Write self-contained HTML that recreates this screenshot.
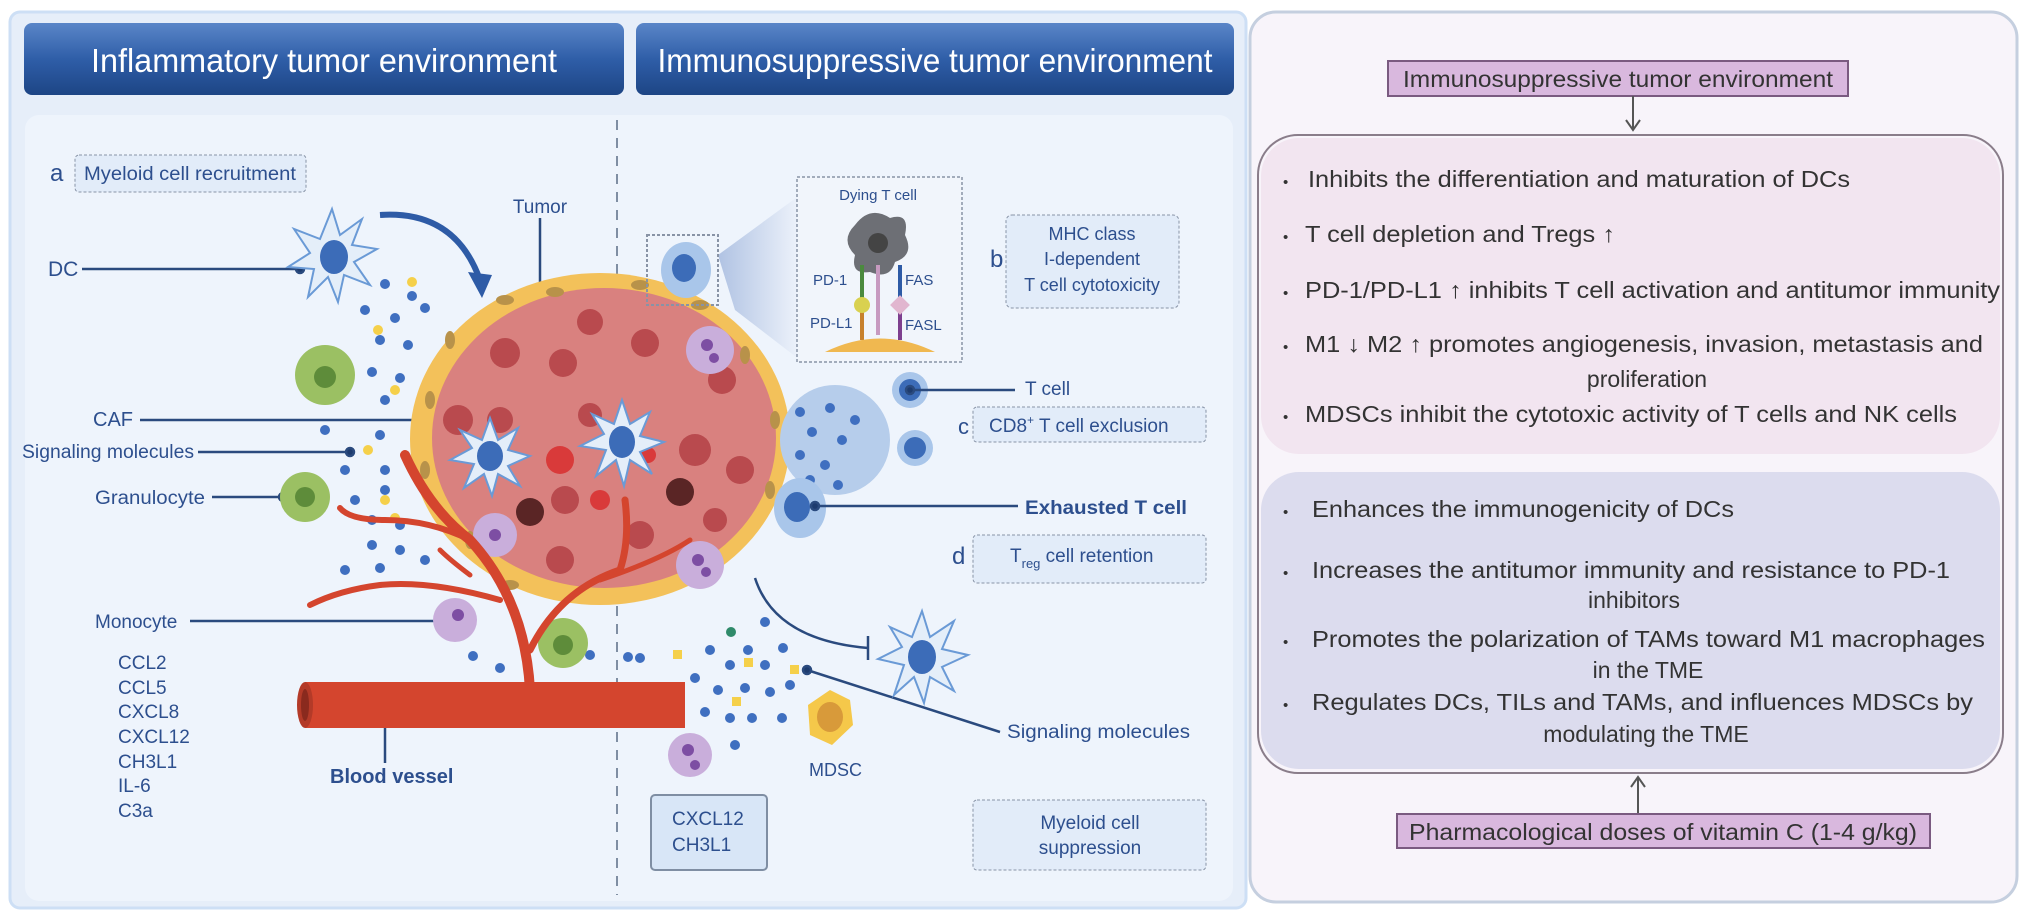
<!DOCTYPE html>
<html><head><meta charset="utf-8"><style>
html,body{margin:0;padding:0;background:#fff;}
svg{display:block;font-family:"Liberation Sans",Arial,sans-serif;}
</style></head><body>
<svg width="2032" height="920" viewBox="0 0 2032 920" xmlns="http://www.w3.org/2000/svg">
<defs>
<linearGradient id="hdr" x1="0" y1="0" x2="0" y2="1"><stop offset="0" stop-color="#5a86c8"/><stop offset="0.5" stop-color="#2f5ea8"/><stop offset="1" stop-color="#1d4585"/></linearGradient>
<linearGradient id="cone" x1="0" y1="0" x2="1" y2="0"><stop offset="0" stop-color="#a9bde0"/><stop offset="1" stop-color="#eef3fb"/></linearGradient>
</defs>
<rect width="2032" height="920" fill="#ffffff"/>
<rect x="10" y="12" width="1236" height="896" rx="10" fill="#e6eef9" stroke="#cddff5" stroke-width="3"/>
<rect x="25" y="115" width="1208" height="786" rx="14" fill="#eef4fc"/>
<rect x="24" y="23" width="600" height="72" rx="8" fill="url(#hdr)"/>
<rect x="636" y="23" width="598" height="72" rx="8" fill="url(#hdr)"/>
<text x="324" y="72" font-size="33" fill="#fff" text-anchor="middle" textLength="466" lengthAdjust="spacingAndGlyphs">Inflammatory tumor environment</text>
<text x="935" y="72" font-size="33" fill="#fff" text-anchor="middle" textLength="555" lengthAdjust="spacingAndGlyphs">Immunosuppressive tumor environment</text>
<line x1="617" y1="120" x2="617" y2="895" stroke="#7f8ea3" stroke-width="2" stroke-dasharray="10,8"/>

<g font-size="19" fill="#2d4f8e">
<text x="50" y="181" font-size="24">a</text>
<rect x="75" y="155" width="231" height="37" rx="4" fill="#e2ecf9" stroke="#8893a6" stroke-dasharray="3,2"/>
<text x="190" y="180" text-anchor="middle" textLength="212" lengthAdjust="spacingAndGlyphs">Myeloid cell recruitment</text>
<text x="48" y="276" font-size="21">DC</text>
<text x="540" y="213" text-anchor="middle" font-size="19">Tumor</text>
<text x="93" y="426" font-size="20">CAF</text>
<text x="22" y="458" textLength="172" lengthAdjust="spacingAndGlyphs">Signaling molecules</text>
<text x="95" y="504" textLength="110" lengthAdjust="spacingAndGlyphs">Granulocyte</text>
<text x="95" y="628">Monocyte</text>
<g font-size="19"><text x="118" y="669">CCL2</text><text x="118" y="694">CCL5</text><text x="118" y="718">CXCL8</text><text x="118" y="743">CXCL12</text><text x="118" y="768">CH3L1</text><text x="118" y="792">IL-6</text><text x="118" y="817">C3a</text></g>
<text x="330" y="783" font-weight="bold" font-size="20">Blood vessel</text>
</g>
<g stroke="#2a4a7e" stroke-width="2.5" fill="#1d3b6e">
<line x1="82" y1="269" x2="300" y2="269"/><circle cx="300" cy="269" r="4"/>
<line x1="540" y1="218" x2="540" y2="330"/><circle cx="540" cy="330" r="4"/>
<line x1="140" y1="420" x2="420" y2="420"/><circle cx="420" cy="420" r="4"/>
<line x1="198" y1="452" x2="355" y2="452"/><circle cx="350" cy="452" r="4"/>
<line x1="212" y1="497" x2="283" y2="497"/><circle cx="283" cy="497" r="4"/>
<line x1="190" y1="621" x2="455" y2="621"/><circle cx="455" cy="621" r="4"/>
<line x1="385" y1="728" x2="385" y2="763"/>
</g>

<g fill="#3f6fc0">
<circle cx="385" cy="284" r="5"/><circle cx="412" cy="296" r="5"/><circle cx="365" cy="310" r="5"/><circle cx="395" cy="318" r="5"/><circle cx="425" cy="308" r="5"/><circle cx="380" cy="340" r="5"/><circle cx="408" cy="345" r="5"/><circle cx="372" cy="372" r="5"/><circle cx="400" cy="378" r="5"/><circle cx="385" cy="400" r="5"/><circle cx="325" cy="430" r="5"/><circle cx="380" cy="435" r="5"/><circle cx="345" cy="470" r="5"/><circle cx="385" cy="470" r="5"/><circle cx="355" cy="500" r="5"/><circle cx="385" cy="490" r="5"/><circle cx="372" cy="520" r="5"/><circle cx="400" cy="525" r="5"/><circle cx="372" cy="545" r="5"/><circle cx="400" cy="550" r="5"/><circle cx="425" cy="560" r="5"/><circle cx="345" cy="570" r="5"/><circle cx="380" cy="568" r="5"/><circle cx="473" cy="656" r="5"/><circle cx="500" cy="668" r="5"/><circle cx="590" cy="655" r="5"/><circle cx="640" cy="658" r="5"/>
</g>
<g fill="#f5d04a"><circle cx="412" cy="282" r="5"/><circle cx="378" cy="330" r="5"/><circle cx="395" cy="390" r="5"/><circle cx="368" cy="450" r="5"/><circle cx="395" cy="518" r="5"/><circle cx="385" cy="500" r="5"/></g>

<g transform="translate(332,257)">
<path d="M0,-48 L8,-22 L30,-38 L20,-12 L45,-8 L22,5 L38,28 L12,18 L6,45 L-4,20 L-24,40 L-18,12 L-44,10 L-22,-4 L-38,-28 L-12,-18 Z" fill="#e4eef9" stroke="#6a9ad6" stroke-width="2"/>
<ellipse cx="2" cy="0" rx="14" ry="17" fill="#3c6cb8"/>
</g>
<path d="M380,215 Q455,210 480,280" fill="none" stroke="#2e5ba6" stroke-width="6"/>
<polygon points="468,272 492,275 482,298" fill="#2e5ba6"/>

<g><circle cx="325" cy="375" r="30" fill="#9bc063"/><circle cx="325" cy="377" r="11" fill="#5e8c3a"/></g>
<g><circle cx="305" cy="497" r="25" fill="#9bc063"/><circle cx="305" cy="497" r="10" fill="#5e8c3a"/></g>
<g><circle cx="563" cy="643" r="25" fill="#9bc063"/><circle cx="563" cy="645" r="10" fill="#5e8c3a"/></g>

<ellipse cx="600" cy="439" rx="190" ry="166" fill="#f3c15a"/>
<ellipse cx="604" cy="438" rx="172" ry="150" fill="#d9817f"/>
<g fill="#b8924a">
<ellipse cx="505" cy="300" rx="9" ry="5"/><ellipse cx="555" cy="292" rx="9" ry="5"/><ellipse cx="640" cy="285" rx="9" ry="5"/><ellipse cx="700" cy="305" rx="9" ry="5"/><ellipse cx="745" cy="355" rx="5" ry="9"/><ellipse cx="775" cy="420" rx="5" ry="9"/><ellipse cx="770" cy="490" rx="5" ry="9"/><ellipse cx="430" cy="400" rx="5" ry="9"/><ellipse cx="425" cy="470" rx="5" ry="9"/><ellipse cx="450" cy="340" rx="5" ry="9"/><ellipse cx="510" cy="585" rx="9" ry="5"/><ellipse cx="470" cy="540" rx="5" ry="9"/>
</g>
<g fill="#b94a4e">
<circle cx="505" cy="353" r="15"/><circle cx="563" cy="363" r="14"/><circle cx="590" cy="322" r="13"/><circle cx="645" cy="343" r="14"/><circle cx="722" cy="380" r="14"/><circle cx="458" cy="420" r="15"/><circle cx="500" cy="420" r="13"/><circle cx="695" cy="450" r="16"/><circle cx="740" cy="470" r="14"/><circle cx="715" cy="520" r="12"/><circle cx="565" cy="500" r="14"/><circle cx="640" cy="535" r="14"/><circle cx="560" cy="560" r="14"/><circle cx="590" cy="415" r="12"/>
</g>
<g fill="#d93a3a"><circle cx="560" cy="460" r="14"/><circle cx="648" cy="455" r="8"/><circle cx="600" cy="500" r="10"/></g>
<g fill="#5a2525"><circle cx="530" cy="512" r="14"/><circle cx="680" cy="492" r="14"/></g>
<g transform="translate(490,456)">
<path d="M0,-38 L8,-16 L28,-28 L18,-6 L40,0 L18,10 L30,30 L8,18 L2,40 L-6,18 L-26,32 L-16,8 L-40,4 L-18,-8 L-30,-26 L-8,-16 Z" fill="#e4eef9" stroke="#6a9ad6" stroke-width="2"/><ellipse cx="0" cy="0" rx="13" ry="15" fill="#3c6cb8"/></g>
<g transform="translate(622,442)">
<path d="M0,-42 L8,-18 L28,-30 L18,-6 L42,0 L18,10 L30,32 L8,18 L2,44 L-6,18 L-26,34 L-16,8 L-42,4 L-18,-8 L-30,-28 L-8,-18 Z" fill="#e4eef9" stroke="#6a9ad6" stroke-width="2"/><ellipse cx="0" cy="0" rx="13" ry="16" fill="#3c6cb8"/></g>
<g fill="#c9aedb"><circle cx="710" cy="350" r="24"/><circle cx="495" cy="535" r="22"/><circle cx="700" cy="565" r="24"/><circle cx="455" cy="620" r="22"/><circle cx="690" cy="755" r="22"/></g>
<g fill="#7d4ea3"><circle cx="707" cy="345" r="6"/><circle cx="714" cy="358" r="5"/><circle cx="495" cy="535" r="6"/><circle cx="698" cy="560" r="6"/><circle cx="706" cy="572" r="5"/><circle cx="458" cy="615" r="6"/><circle cx="688" cy="750" r="6"/><circle cx="695" cy="765" r="5"/></g>

<g fill="none" stroke="#d4452e" stroke-linecap="round">
<path d="M530,690 Q525,600 470,540 Q430,510 405,455" stroke-width="10"/>
<path d="M470,540 Q430,520 385,520 Q350,520 340,508" stroke-width="6"/>
<path d="M500,600 Q430,580 380,585 Q340,590 310,605" stroke-width="6"/>
<path d="M530,650 Q560,590 620,570 Q630,540 625,500" stroke-width="7"/>
<path d="M600,580 Q660,560 690,540" stroke-width="5"/>
<path d="M470,575 Q450,560 440,550" stroke-width="5"/>
</g>
<rect x="305" y="682" width="380" height="46" fill="#d4452e"/>
<ellipse cx="305" cy="705" rx="8" ry="23" fill="#b33a28"/>
<ellipse cx="305" cy="705" rx="4" ry="16" fill="#8a2a1e"/>

<path d="M718,255 L800,195 L800,360 L735,310 Z" fill="url(#cone)" opacity="0.9"/>
<rect x="647" y="235" width="71" height="70" fill="none" stroke="#8893a6" stroke-width="2" stroke-dasharray="3,2"/>
<ellipse cx="686" cy="270" rx="25" ry="28" fill="#a9c6ea"/><ellipse cx="684" cy="268" rx="12" ry="14" fill="#3c6cb8"/>
<rect x="797" y="177" width="165" height="185" fill="#f1f5fb" stroke="#8893a6" stroke-width="1.5" stroke-dasharray="3,2"/>
<text x="878" y="200" text-anchor="middle" font-size="15" fill="#2d4f8e">Dying T cell</text>
<path d="M855,225 Q870,205 890,218 Q910,212 905,235 Q915,255 895,262 Q890,280 870,272 Q850,275 855,255 Q840,240 855,225Z" fill="#6d6f75"/>
<circle cx="878" cy="243" r="10" fill="#444"/>
<g stroke-width="4"><line x1="862" y1="265" x2="862" y2="300" stroke="#4b8a3e"/><line x1="878" y1="265" x2="878" y2="335" stroke="#c79ac0"/><line x1="900" y1="265" x2="900" y2="300" stroke="#2e5ba6"/><line x1="862" y1="310" x2="862" y2="340" stroke="#c7812d"/><line x1="900" y1="310" x2="900" y2="340" stroke="#7d3f8e"/></g>
<circle cx="862" cy="305" r="8" fill="#d9d150"/><rect x="893" y="298" width="14" height="14" fill="#e1b6cf" transform="rotate(45 900 305)"/>
<path d="M825,352 Q880,325 935,352 Z" fill="#f0b850"/>
<g font-size="15" fill="#2d4f8e"><text x="813" y="285">PD-1</text><text x="905" y="285">FAS</text><text x="810" y="328">PD-L1</text><text x="905" y="330">FASL</text></g>
<text x="990" y="267" font-size="24" fill="#2d4f8e">b</text>
<rect x="1006" y="215" width="173" height="93" rx="6" fill="#e2ecf9" stroke="#8893a6" stroke-dasharray="3,2"/>
<g font-size="18" fill="#2d4f8e" text-anchor="middle"><text x="1092" y="240">MHC class</text><text x="1092" y="265">I-dependent</text><text x="1092" y="291">T cell cytotoxicity</text></g>

<circle cx="835" cy="440" r="55" fill="#b6cdeb"/>
<g fill="#3f6fc0"><circle cx="800" cy="412" r="5"/><circle cx="830" cy="408" r="5"/><circle cx="812" cy="432" r="5"/><circle cx="842" cy="440" r="5"/><circle cx="800" cy="455" r="5"/><circle cx="825" cy="465" r="5"/><circle cx="855" cy="420" r="5"/><circle cx="810" cy="480" r="5"/><circle cx="838" cy="485" r="5"/></g>
<ellipse cx="800" cy="508" rx="26" ry="30" fill="#a9c6ea"/><ellipse cx="797" cy="507" rx="13" ry="15" fill="#3c6cb8"/>
<circle cx="910" cy="390" r="18" fill="#a9c6ea"/><circle cx="910" cy="390" r="11" fill="#3c6cb8"/>
<circle cx="915" cy="448" r="18" fill="#a9c6ea"/><circle cx="915" cy="448" r="11" fill="#3c6cb8"/>
<g stroke="#2a4a7e" stroke-width="2.5" fill="#1d3b6e">
<line x1="910" y1="390" x2="1015" y2="390"/><circle cx="910" cy="390" r="4"/>
<line x1="815" y1="506" x2="1018" y2="506"/><circle cx="815" cy="506" r="4"/>
<line x1="807" y1="670" x2="1000" y2="732"/><circle cx="807" cy="670" r="4"/>
</g>
<g font-size="19" fill="#2d4f8e">
<text x="1025" y="395">T cell</text>
<text x="958" y="434" font-size="22">c</text>
<rect x="973" y="407" width="233" height="35" rx="4" fill="#e2ecf9" stroke="#8893a6" stroke-dasharray="3,2"/>
<text x="989" y="432">CD8<tspan font-size="12" dy="-8">+</tspan><tspan dy="8"> T cell exclusion</tspan></text>
<text x="1025" y="514" font-weight="bold" textLength="162" lengthAdjust="spacingAndGlyphs">Exhausted T cell</text>
<text x="952" y="564" font-size="24">d</text>
<rect x="973" y="535" width="233" height="48" rx="4" fill="#e2ecf9" stroke="#8893a6" stroke-dasharray="3,2"/>
<text x="1010" y="562">T<tspan font-size="13" dy="6">reg</tspan><tspan dy="-6"> cell retention</tspan></text>
<text x="1007" y="738" textLength="183" lengthAdjust="spacingAndGlyphs">Signaling molecules</text>
<text x="809" y="776" font-size="18">MDSC</text>
<rect x="651" y="795" width="116" height="75" rx="4" fill="#d8e6f7" stroke="#7f8ea3" stroke-width="2"/>
<text x="672" y="825">CXCL12</text><text x="672" y="851">CH3L1</text>
<rect x="973" y="800" width="233" height="70" rx="4" fill="#e2ecf9" stroke="#8893a6" stroke-dasharray="3,2"/>
<text x="1090" y="829" text-anchor="middle">Myeloid cell</text><text x="1090" y="854" text-anchor="middle">suppression</text>
</g>
<path d="M755,578 Q775,640 868,648" fill="none" stroke="#2a4a7e" stroke-width="2.5"/>
<line x1="868" y1="636" x2="868" y2="660" stroke="#2a4a7e" stroke-width="2.5"/>
<g transform="translate(922,657)">
<path d="M0,-46 L8,-20 L32,-36 L20,-8 L46,-2 L20,10 L32,34 L8,20 L2,46 L-8,20 L-28,38 L-18,8 L-44,2 L-20,-10 L-32,-30 L-10,-20 Z" fill="#e4eef9" stroke="#6a9ad6" stroke-width="2"/><ellipse cx="0" cy="0" rx="14" ry="17" fill="#3c6cb8"/></g>
<polygon points="830,690 850,700 853,725 832,745 810,735 808,705" fill="#f5c84a"/><ellipse cx="830" cy="717" rx="13" ry="15" fill="#d89a3a"/>
<g fill="#3f6fc0"><circle cx="765" cy="622" r="5"/><circle cx="710" cy="650" r="5"/><circle cx="748" cy="650" r="5"/><circle cx="783" cy="648" r="5"/><circle cx="730" cy="665" r="5"/><circle cx="765" cy="665" r="5"/><circle cx="695" cy="678" r="5"/><circle cx="718" cy="690" r="5"/><circle cx="745" cy="688" r="5"/><circle cx="770" cy="692" r="5"/><circle cx="790" cy="685" r="5"/><circle cx="705" cy="712" r="5"/><circle cx="730" cy="718" r="5"/><circle cx="752" cy="718" r="5"/><circle cx="782" cy="718" r="5"/><circle cx="735" cy="745" r="5"/><circle cx="628" cy="657" r="5"/></g>
<g fill="#f5d04a"><rect x="673" y="650" width="9" height="9"/><rect x="744" y="658" width="9" height="9"/><rect x="790" y="665" width="9" height="9"/><rect x="732" y="697" width="9" height="9"/></g>
<circle cx="731" cy="632" r="5" fill="#2f8a6a"/>

<!-- RIGHT PANEL -->
<rect x="1250" y="12" width="767" height="890" rx="26" fill="#f8f4fa" stroke="#c5cfdf" stroke-width="3"/>
<rect x="1388" y="61" width="460" height="35" fill="#d9b8de" stroke="#7a5a80" stroke-width="2"/>
<text x="1618" y="87" text-anchor="middle" font-size="23" fill="#333" textLength="430" lengthAdjust="spacingAndGlyphs">Immunosuppressive tumor environment</text>
<line x1="1633" y1="96" x2="1633" y2="128" stroke="#555" stroke-width="2"/>
<polyline points="1626,120 1633,130 1640,120" fill="none" stroke="#555" stroke-width="2"/>
<rect x="1258" y="135" width="745" height="638" rx="40" fill="#f8f4fa" stroke="#8a7d8a" stroke-width="2"/>
<rect x="1261" y="138" width="739" height="316" rx="38" fill="#f2e5f0"/>
<rect x="1261" y="472" width="739" height="297" rx="38" fill="#dcdcee"/>
<g font-size="23" fill="#333">
<text x="1283" y="187" font-size="15">•</text><text x="1308" y="187" textLength="542" lengthAdjust="spacingAndGlyphs">Inhibits the differentiation and maturation of DCs</text>
<text x="1283" y="242" font-size="15">•</text><text x="1305" y="242" textLength="310" lengthAdjust="spacingAndGlyphs">T cell depletion and Tregs ↑</text>
<text x="1283" y="298" font-size="15">•</text><text x="1305" y="298" textLength="695" lengthAdjust="spacingAndGlyphs">PD-1/PD-L1 ↑ inhibits T cell activation and antitumor immunity</text>
<text x="1283" y="352" font-size="15">•</text><text x="1305" y="352" textLength="678" lengthAdjust="spacingAndGlyphs">M1 ↓ M2 ↑ promotes angiogenesis, invasion, metastasis and</text>
<text x="1647" y="387" text-anchor="middle">proliferation</text>
<text x="1283" y="422" font-size="15">•</text><text x="1305" y="422" textLength="652" lengthAdjust="spacingAndGlyphs">MDSCs inhibit the cytotoxic activity of T cells and NK cells</text>
<text x="1283" y="517" font-size="15">•</text><text x="1312" y="517" textLength="422" lengthAdjust="spacingAndGlyphs">Enhances the immunogenicity of DCs</text>
<text x="1283" y="578" font-size="15">•</text><text x="1312" y="578" textLength="638" lengthAdjust="spacingAndGlyphs">Increases the antitumor immunity and resistance to PD-1</text>
<text x="1634" y="608" text-anchor="middle">inhibitors</text>
<text x="1283" y="647" font-size="15">•</text><text x="1312" y="647" textLength="673" lengthAdjust="spacingAndGlyphs">Promotes the polarization of TAMs toward M1 macrophages</text>
<text x="1648" y="678" text-anchor="middle">in the TME</text>
<text x="1283" y="710" font-size="15">•</text><text x="1312" y="710" textLength="661" lengthAdjust="spacingAndGlyphs">Regulates DCs, TILs and TAMs, and influences MDSCs by</text>
<text x="1646" y="742" text-anchor="middle">modulating the TME</text>
</g>
<line x1="1638" y1="778" x2="1638" y2="814" stroke="#555" stroke-width="2"/>
<polyline points="1631,787 1638,777 1645,787" fill="none" stroke="#555" stroke-width="2"/>
<rect x="1397" y="814" width="533" height="34" fill="#d9b8de" stroke="#7a5a80" stroke-width="2"/>
<text x="1663" y="840" text-anchor="middle" font-size="23" fill="#333" textLength="508" lengthAdjust="spacingAndGlyphs">Pharmacological doses of vitamin C (1-4 g/kg)</text>
</svg>
</body></html>
